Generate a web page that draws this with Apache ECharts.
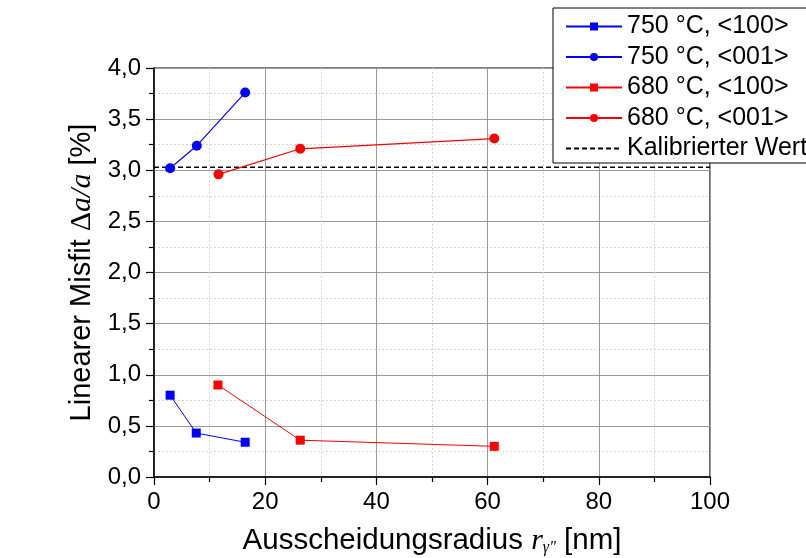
<!DOCTYPE html>
<html>
<head>
<meta charset="utf-8">
<script src="https://cdn.jsdelivr.net/npm/echarts@6/dist/echarts.min.js"></script>
<style>
  html, body { margin: 0; padding: 0; background: #fff; }
  #chart { width: 806px; height: 558px; }
</style>
</head>
<body>
<div id="chart"></div>
<script>
// Precipitate radius (nm) and linear misfit (%) per heat treatment / direction
const seriesNames = ['750 °C, <100>', '750 °C, <001>', '680 °C, <100>', '680 °C, <001>', 'Kalibrierter Wert'];
const radius750_100 = [2.9, 7.6, 16.4];
const misfit750_100 = [0.80, 0.43, 0.34];
const radius750_001 = [2.9, 7.7, 16.4];
const misfit750_001 = [3.02, 3.24, 3.76];
const radius680_100 = [11.5, 26.3, 61.2];
const misfit680_100 = [0.90, 0.36, 0.30];
const radius680_001 = [11.6, 26.3, 61.2];
const misfit680_001 = [2.96, 3.21, 3.31];
const calibratedRange = [0, 100];
const calibratedValue = 3.03;

const FONT = '"Liberation Sans", Arial, sans-serif';
const SERIF = '"Liberation Serif", "Times New Roman", serif';

function pairs(xs, ys) { return xs.map((x, i) => [x, ys[i]]); }

const chart = echarts.init(document.getElementById('chart'), null, { renderer: 'canvas' });

const pointSeries = (name, xs, ys, color, symbol, size, width) => ({
  name, type: 'line', data: pairs(xs, ys),
  symbol, symbolSize: size,
  itemStyle: { color },
  lineStyle: { color, width },
  z: 5
});

chart.setOption({
  backgroundColor: '#fff',
  animation: false,
  grid: {
    left: 154, right: 96, top: 68, bottom: 81,
    outerBoundsMode: 'none',
    show: true, borderColor: '#000', borderWidth: 1.2, backgroundColor: 'transparent'
  },
  legend: {
    orient: 'vertical',
    left: 553, top: 8,
    padding: [6, 40, 2, 12],
    backgroundColor: '#fff',
    borderColor: '#000', borderWidth: 1,
    itemWidth: 56, itemHeight: 10, itemGap: 5.5,
    textStyle: { fontFamily: FONT, fontSize: 25, color: '#000', lineHeight: 24 },
    data: [
      seriesNames[0], seriesNames[1], seriesNames[2], seriesNames[3],
      { name: seriesNames[4], itemStyle: { color: 'transparent', borderColor: 'transparent', borderWidth: 0 } }
    ],
    z: 10
  },
  xAxis: {
    type: 'value', min: 0, max: 100, interval: 20,
    name: 'Ausscheidungsradius {i|r}{sub|γ"} [nm]',
    nameLocation: 'middle', nameGap: 49,
    nameTextStyle: {
      fontFamily: FONT, fontSize: 29.5, color: '#000',
      rich: {
        i: { fontFamily: SERIF, fontStyle: 'italic', fontSize: 30, color: '#000' },
        sub: { fontFamily: SERIF, fontStyle: 'italic', fontSize: 16, color: '#000', padding: [14, 0, 0, 0] }
      }
    },
    axisLine: { show: true, lineStyle: { color: '#000', width: 1.5 } },
    axisTick: { show: true, length: 8, inside: false, lineStyle: { color: '#000', width: 1.2 } },
    minorTick: { show: true, splitNumber: 2, length: 5, lineStyle: { color: '#000', width: 1.2 } },
    axisLabel: { fontFamily: FONT, fontSize: 24, color: '#000', margin: 13 },
    splitLine: { show: true, lineStyle: { color: '#9a9a9a', width: 1 } },
    minorSplitLine: { show: true, lineStyle: { color: '#d6d6d6', width: 1, type: [2, 2] } }
  },
  yAxis: {
    type: 'value', min: 0, max: 4, interval: 0.5,
    name: 'Linearer Misfit {d|Δ}{i|a/a} [%]',
    nameLocation: 'middle', nameGap: 56,
    nameTextStyle: {
      fontFamily: FONT, fontSize: 29, color: '#000',
      rich: {
        d: { fontFamily: SERIF, fontSize: 30, color: '#000' },
        i: { fontFamily: SERIF, fontStyle: 'italic', fontSize: 30, color: '#000' }
      }
    },
    axisLine: { show: true, lineStyle: { color: '#000', width: 1.5 } },
    axisTick: { show: true, length: 8, inside: false, lineStyle: { color: '#000', width: 1.2 } },
    minorTick: { show: true, splitNumber: 2, length: 5, lineStyle: { color: '#000', width: 1.2 } },
    axisLabel: {
      fontFamily: FONT, fontSize: 24, color: '#000', margin: 13,
      formatter: v => v.toFixed(1).replace('.', ',')
    },
    splitLine: { show: true, lineStyle: { color: '#9a9a9a', width: 1 } },
    minorSplitLine: { show: true, lineStyle: { color: '#d6d6d6', width: 1, type: [2, 2] } }
  },
  series: [
    pointSeries(seriesNames[0], radius750_100, misfit750_100, '#0000ff', 'rect', 9, 1),
    pointSeries(seriesNames[1], radius750_001, misfit750_001, '#0000ff', 'circle', 10, 1.2),
    pointSeries(seriesNames[2], radius680_100, misfit680_100, '#ff0000', 'rect', 9, 1),
    pointSeries(seriesNames[3], radius680_001, misfit680_001, '#ff0000', 'circle', 10, 1.2),
    {
      name: seriesNames[4], type: 'line',
      data: calibratedRange.map(x => [x, calibratedValue]),
      symbol: 'none',
      itemStyle: { color: '#000' },
      lineStyle: { color: '#000', width: 1.5, type: [5, 3] },
      z: 4
    }
  ]
});
</script>
</body>
</html>
